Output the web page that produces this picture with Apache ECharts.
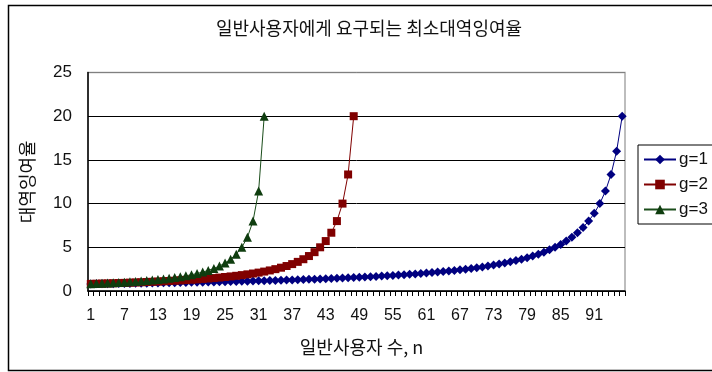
<!DOCTYPE html>
<html>
<head>
<meta charset="utf-8">
<script src="https://cdn.jsdelivr.net/npm/echarts@6/dist/echarts.min.js"></script>
<style>
  html, body { margin: 0; padding: 0; background: #fff; }
  #chart { width: 712px; height: 372px; }
</style>
</head>
<body>
<div id="chart"></div>
<script>
// Number of general users n (categories 1..96)
const userCounts = [];
for (let n = 1; n <= 96; n++) userCounts.push(String(n));

// Minimum bandwidth surplus ratio per g
const ratioG1 = [
  0.808, 0.816, 0.825, 0.833, 0.842, 0.851, 0.860, 0.870, 0.879, 0.889,
  0.899, 0.909, 0.920, 0.930, 0.941, 0.952, 0.964, 0.976, 0.988, 1.000,
  1.013, 1.026, 1.039, 1.053, 1.067, 1.081, 1.096, 1.111, 1.127, 1.143,
  1.159, 1.176, 1.194, 1.212, 1.231, 1.250, 1.270, 1.290, 1.311, 1.333,
  1.356, 1.379, 1.404, 1.429, 1.455, 1.481, 1.509, 1.538, 1.569, 1.600,
  1.633, 1.667, 1.702, 1.739, 1.778, 1.818, 1.860, 1.905, 1.951, 2.000,
  2.051, 2.105, 2.162, 2.222, 2.286, 2.353, 2.424, 2.500, 2.581, 2.667,
  2.759, 2.857, 2.963, 3.077, 3.200, 3.333, 3.478, 3.636, 3.810, 4.000,
  4.211, 4.444, 4.706, 5.000, 5.333, 5.714, 6.154, 6.667, 7.273, 8.000,
  8.889, 10.000, 11.429, 13.333, 16.000, 20.000
];
const ratioG2 = [
  0.816, 0.833, 0.851, 0.870, 0.889, 0.909, 0.930, 0.952, 0.976, 1.000,
  1.026, 1.053, 1.081, 1.111, 1.143, 1.176, 1.212, 1.250, 1.290, 1.333,
  1.379, 1.429, 1.481, 1.538, 1.600, 1.667, 1.739, 1.818, 1.905, 2.000,
  2.105, 2.222, 2.353, 2.500, 2.667, 2.857, 3.077, 3.333, 3.636, 4.000,
  4.444, 5.000, 5.714, 6.667, 8.000, 10.000, 13.333, 20.000
];
const ratioG3 = [
  0.825, 0.851, 0.879, 0.909, 0.941, 0.976, 1.013, 1.053, 1.096, 1.143,
  1.194, 1.250, 1.311, 1.379, 1.455, 1.538, 1.633, 1.739, 1.860, 2.000,
  2.162, 2.353, 2.581, 2.857, 3.200, 3.636, 4.211, 5.000, 6.154, 8.000,
  11.429, 20.000
];
const seriesNames = ['g=1', 'g=2', 'g=3'];
const yTicks = [0, 5, 10, 15, 20, 25];

const FONT = '"Noto Sans CJK KR", "Noto Sans", sans-serif';
const NUM_FONT = 'Arial, "Liberation Sans", sans-serif';
const chart = echarts.init(document.getElementById('chart'), null, { renderer: 'canvas' });

chart.setOption({
  animation: false,
  backgroundColor: '#fff',
  textStyle: { fontFamily: FONT },
  title: {
    text: '일반사용자에게 요구되는 최소대역잉여율',
    left: 364, top: 14, textAlign: 'center',
    textStyle: { fontFamily: FONT, fontSize: 18, fontWeight: 'normal', color: '#111' }
  },
  graphic: [{
    type: 'rect',
    shape: { x: 8.5, y: 5.5, width: 720, height: 365 },
    style: { fill: 'none', stroke: '#000', lineWidth: 1.5 },
    silent: true, z: 100
  }],
  legend: {
    orient: 'vertical',
    left: 638, top: 145,
    width: 80,
    padding: [6, 8, 6, 5],
    itemGap: 8,
    itemWidth: 32, itemHeight: 12,
    borderColor: '#000', borderWidth: 1,
    data: seriesNames,
    textStyle: { fontFamily: NUM_FONT, fontSize: 17, color: '#111', padding: [0, 0, 0, -2] }
  },
  grid: {
    left: 88, right: 87, top: 72.5, bottom: 81,
    show: true, borderColor: '#a8a8a8', borderWidth: 1.5, backgroundColor: 'transparent'
  },
  xAxis: {
    type: 'category',
    data: userCounts,
    boundaryGap: true,
    name: '일반사용자 수, n',
    nameLocation: 'middle',
    nameGap: 47,
    nameTextStyle: { fontFamily: FONT, fontSize: 18, color: '#111', padding: [0, 0, 0, 10] },
    axisLine: { lineStyle: { color: '#000', width: 1.5 } },
    axisTick: { show: true, interval: 0, length: 5, inside: false, lineStyle: { color: '#000' } },
    axisLabel: { interval: 5, margin: 17, fontFamily: NUM_FONT, fontSize: 16, color: '#111' },
    splitLine: { show: false }
  },
  yAxis: {
    type: 'value',
    min: yTicks[0], max: yTicks[yTicks.length - 1], interval: 5,
    name: '대역잉여율',
    nameLocation: 'middle',
    nameGap: 52,
    nameRotate: 90,
    nameTextStyle: { fontFamily: FONT, fontSize: 18, color: '#111' },
    axisLine: { show: true, lineStyle: { color: '#000', width: 1.5 } },
    axisTick: { show: false },
    axisLabel: { margin: 16, fontFamily: NUM_FONT, fontSize: 17, color: '#111' },
    splitLine: { show: true, lineStyle: { color: ['#000', '#000', '#000', '#000', '#000', '#808080'], width: 1 } }
  },
  series: [
    {
      name: seriesNames[0], type: 'line', data: ratioG1,
      symbol: 'diamond', symbolSize: 9, showAllSymbol: true,
      lineStyle: { color: '#000080', width: 1 },
      itemStyle: { color: '#000080' }
    },
    {
      name: seriesNames[1], type: 'line', data: ratioG2,
      symbol: 'rect', symbolSize: 8, showAllSymbol: true,
      lineStyle: { color: '#800000', width: 1 },
      itemStyle: { color: '#800000' }
    },
    {
      name: seriesNames[2], type: 'line', data: ratioG3,
      symbol: 'triangle', symbolSize: 9, showAllSymbol: true,
      lineStyle: { color: '#1a4d1a', width: 1 },
      itemStyle: { color: '#0f3d0f' }
    }
  ]
});
</script>
</body>
</html>
